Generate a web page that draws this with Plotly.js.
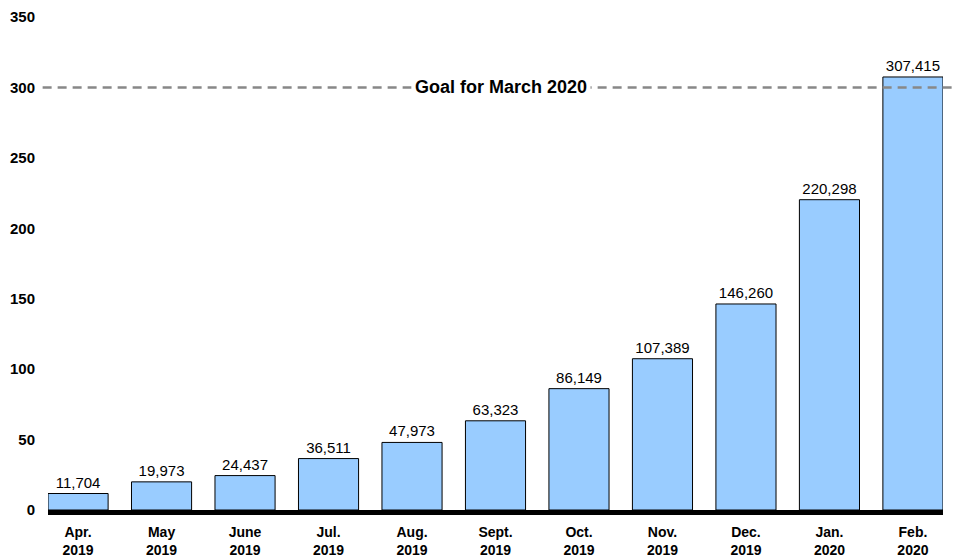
<!DOCTYPE html>
<html>
<head>
<meta charset="utf-8">
<script src="https://cdn.plot.ly/plotly-3.0.1.min.js"></script>
<style>html,body{margin:0;padding:0;background:#fff;}#chart{width:962px;height:558px;}</style>
</head>
<body>
<div id="chart"></div>
<script>
const categories = ["Apr.<br>2019","May<br>2019","June<br>2019","Jul.<br>2019","Aug.<br>2019","Sept.<br>2019","Oct.<br>2019","Nov.<br>2019","Dec.<br>2019","Jan.<br>2020","Feb.<br>2020"];
const values = [11704, 19973, 24437, 36511, 47973, 63323, 86149, 107389, 146260, 220298, 307415];
const valuesThousands = values.map(v => v / 1000);
const valueLabels = values.map(v => v.toLocaleString("en-US"));
const goalValue = 300;
const goalLabel = "Goal for March 2020";
const yTicks = [0, 50, 100, 150, 200, 250, 300, 350];

const FONT = "Arial, 'Liberation Sans', sans-serif";

const trace = {
  type: "bar",
  x: categories.map((c, i) => i),
  y: valuesThousands,
  text: valueLabels,
  textposition: "outside",
  textfont: {family: FONT, size: 15, color: "#000"},
  cliponaxis: false,
  marker: {color: "#99ccff", line: {color: "#000", width: 1}},
  hoverinfo: "none"
};

const layout = {
  width: 962, height: 558,
  margin: {l: 48, r: 19, t: 17, b: 48},
  paper_bgcolor: "#fff", plot_bgcolor: "#fff",
  showlegend: false,
  bargap: 0.28,
  font: {family: FONT, color: "#000"},
  xaxis: {
    range: [-0.36, 10.36],
    tickmode: "array",
    tickvals: categories.map((c, i) => i),
    ticktext: categories,
    tickfont: {family: FONT, size: 14, color: "#000", weight: "bold"},
    showgrid: false, zeroline: false,
    showline: true, linecolor: "#000", linewidth: 5,
    ticks: "", ticklabelstandoff: 5
  },
  yaxis: {
    range: [0, 350],
    tickmode: "array",
    tickvals: yTicks,
    ticktext: yTicks.map(String),
    tickfont: {family: FONT, size: 15, color: "#000", weight: "bold"},
    showgrid: false, zeroline: false, showline: false,
    ticks: "", ticklabelstandoff: 12
  },
  shapes: [{
    type: "line", xref: "paper", yref: "y",
    x0: -0.006, x1: 1.011, y0: goalValue, y1: goalValue,
    line: {color: "#888", width: 2.5, dash: "9px,6px"},
    layer: "above"
  }],
  annotations: [{
    xref: "paper", yref: "y", x: 0.506, y: goalValue,
    text: "<b>" + goalLabel + "</b>",
    showarrow: false,
    font: {family: FONT, size: 18, color: "#000"},
    bgcolor: "#fff", borderpad: 3
  }]
};

Plotly.newPlot("chart", [trace], layout, {displayModeBar: false, staticPlot: true});
</script>
</body>
</html>
